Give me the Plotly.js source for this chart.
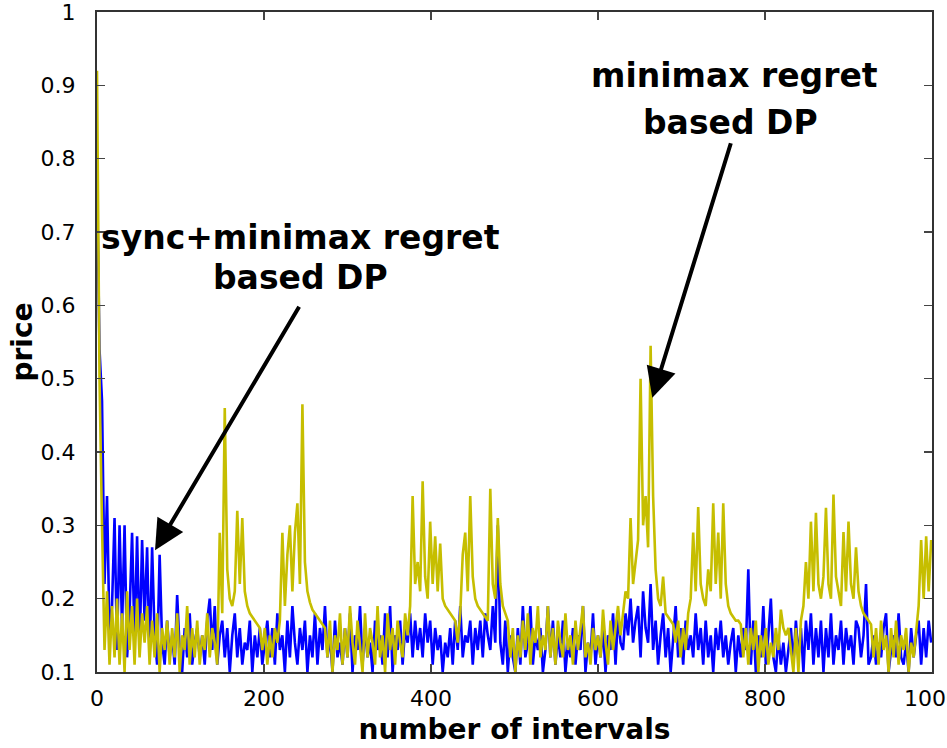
<!DOCTYPE html>
<html>
<head>
<meta charset="utf-8">
<script src="https://cdn.plot.ly/plotly-3.0.1.min.js"></script>
<style>html,body{margin:0;padding:0;background:#fff;}#chart{width:947px;height:748px;}</style>
</head>
<body>
<div id="chart"></div>
<script>
// price per interval, sampled every 3 intervals
const xStep = 3;
const syncBlue = [
0.77,0.54,0.47,0.22,0.34,0.15,0.19,0.31,0.13,0.30,
0.16,0.30,0.12,0.18,0.29,0.14,0.285,0.13,0.28,0.17,
0.27,0.12,0.27,0.15,0.11,0.26,0.14,0.11,0.17,0.12,
0.15,0.11,0.205,0.13,0.10,0.16,0.12,0.18,0.11,0.14,
0.16,0.12,0.15,0.11,0.17,0.20,0.13,0.19,0.11,0.15,
0.17,0.12,0.16,0.10,0.15,0.18,0.12,0.16,0.11,0.14,
0.13,0.17,0.10,0.15,0.12,0.16,0.11,0.14,0.17,0.12,
0.16,0.11,0.18,0.13,0.15,0.10,0.17,0.12,0.19,0.14,
0.11,0.16,0.13,0.17,0.10,0.15,0.12,0.18,0.11,0.16,
0.13,0.19,0.12,0.15,0.10,0.17,0.12,0.14,0.11,0.16,
0.12,0.18,0.10,0.15,0.13,0.19,0.11,0.16,0.12,0.14,
0.10,0.17,0.13,0.15,0.11,0.18,0.12,0.19,0.10,0.15,
0.13,0.17,0.11,0.16,0.14,0.18,0.12,0.17,0.13,0.16,
0.12,0.18,0.14,0.17,0.11,0.16,0.13,0.15,0.10,0.14,
0.12,0.16,0.11,0.17,0.13,0.19,0.12,0.15,0.14,0.17,
0.11,0.16,0.13,0.17,0.12,0.18,0.15,0.13,0.19,0.14,
0.30,0.14,0.11,0.17,0.10,0.15,0.12,0.10,0.16,0.11,
0.19,0.12,0.14,0.19,0.11,0.15,0.13,0.16,0.10,0.13,
0.19,0.12,0.17,0.11,0.15,0.12,0.17,0.10,0.14,0.12,
0.16,0.11,0.15,0.13,0.19,0.10,0.14,0.12,0.18,0.11,
0.15,0.12,0.16,0.10,0.15,0.13,0.18,0.11,0.18,0.14,
0.13,0.18,0.15,0.20,0.14,0.17,0.19,0.12,0.21,0.16,
0.14,0.22,0.13,0.17,0.11,0.15,0.18,0.12,0.16,0.10,
0.15,0.19,0.12,0.16,0.11,0.17,0.13,0.15,0.12,0.18,
0.13,0.16,0.11,0.17,0.12,0.15,0.10,0.16,0.13,0.17,
0.12,0.15,0.11,0.14,0.16,0.10,0.15,0.12,0.16,0.13,
0.24,0.11,0.17,0.10,0.15,0.12,0.19,0.11,0.15,0.20,
0.12,0.10,0.15,0.11,0.14,0.10,0.13,0.16,0.11,0.17,
0.12,0.16,0.10,0.17,0.13,0.18,0.11,0.16,0.12,0.17,
0.10,0.16,0.12,0.18,0.11,0.15,0.13,0.17,0.11,0.16,
0.13,0.15,0.11,0.17,0.16,0.12,0.15,0.22,0.11,0.12,
0.15,0.11,0.14,0.12,0.16,0.18,0.10,0.13,0.15,0.12,
0.18,0.12,0.11,0.14,0.10,0.16,0.12,0.15,0.17,0.11,
0.16,0.12,0.17,0.14
];
const minimaxYellow = [
0.92,0.50,0.30,0.13,0.21,0.11,0.19,0.12,0.20,0.11,
0.18,0.10,0.21,0.13,0.19,0.11,0.20,0.12,0.18,0.14,
0.19,0.11,0.17,0.12,0.18,0.10,0.16,0.13,0.17,0.11,
0.16,0.12,0.18,0.10,0.15,0.13,0.19,0.11,0.16,0.12,
0.17,0.11,0.15,0.13,0.18,0.12,0.16,0.14,0.11,0.29,
0.18,0.46,0.24,0.20,0.19,0.21,0.32,0.22,0.31,0.21,
0.19,0.18,0.175,0.17,0.165,0.16,0.13,0.16,0.11,0.15,
0.12,0.16,0.14,0.17,0.29,0.19,0.26,0.30,0.21,0.29,
0.33,0.22,0.465,0.25,0.21,0.195,0.185,0.18,0.175,0.17,
0.165,0.16,0.12,0.17,0.10,0.15,0.13,0.18,0.11,0.16,
0.12,0.19,0.14,0.11,0.17,0.13,0.10,0.18,0.12,0.16,
0.14,0.11,0.19,0.12,0.15,0.10,0.18,0.13,0.16,0.11,
0.17,0.14,0.12,0.18,0.15,0.19,0.34,0.22,0.25,0.21,
0.36,0.23,0.20,0.305,0.22,0.285,0.21,0.275,0.20,0.19,
0.185,0.18,0.175,0.17,0.14,0.18,0.26,0.29,0.21,0.34,
0.23,0.20,0.19,0.185,0.18,0.175,0.17,0.35,0.22,0.20,
0.31,0.22,0.19,0.18,0.17,0.12,0.16,0.10,0.15,0.12,
0.17,0.13,0.18,0.11,0.16,0.14,0.19,0.12,0.15,0.13,
0.19,0.12,0.16,0.11,0.17,0.14,0.12,0.18,0.13,0.15,
0.11,0.17,0.13,0.16,0.19,0.12,0.14,0.11,0.16,0.13,
0.15,0.12,0.185,0.14,0.11,0.17,0.13,0.16,0.19,0.15,
0.18,0.21,0.20,0.31,0.22,0.25,0.28,0.50,0.30,0.34,
0.27,0.545,0.34,0.24,0.20,0.19,0.23,0.18,0.175,0.17,
0.165,0.14,0.17,0.12,0.16,0.13,0.18,0.20,0.29,0.21,
0.325,0.22,0.20,0.19,0.24,0.21,0.33,0.22,0.29,0.20,
0.33,0.22,0.19,0.18,0.175,0.17,0.17,0.165,0.12,0.16,
0.11,0.16,0.13,0.17,0.10,0.15,0.12,0.16,0.11,0.14,
0.12,0.16,0.13,0.185,0.16,0.15,0.16,0.13,0.10,0.16,
0.10,0.17,0.19,0.25,0.20,0.305,0.21,0.317,0.22,0.20,
0.23,0.324,0.22,0.20,0.342,0.23,0.21,0.19,0.291,0.21,
0.305,0.22,0.20,0.27,0.21,0.19,0.18,0.175,0.17,0.165,
0.12,0.16,0.11,0.17,0.13,0.15,0.10,0.16,0.12,0.17,
0.11,0.15,0.13,0.16,0.10,0.14,0.12,0.16,0.19,0.28,
0.20,0.285,0.21,0.28
];
const intervals = syncBlue.map((_, i) => i * xStep);
const xTicks = [0, 200, 400, 600, 800, 1000];
const yTicks = [0.1, 0.2, 0.3, 0.4, 0.5, 0.6, 0.7, 0.8, 0.9, 1];
const yTickText = ['0.1','0.2','0.3','0.4','0.5','0.6','0.7','0.8','0.9','1'];

const tickFont = {family: 'DejaVu Sans', size: 22, color: '#000'};
const boldFont = {family: 'DejaVu Sans', size: 28, color: '#000', weight: 'bold'};
const annFont = {family: 'DejaVu Sans', size: 33, color: '#000', weight: 'bold'};

const traces = [
  {x: intervals, y: syncBlue, type: 'scatter', mode: 'lines', name: 'sync+minimax regret based DP',
   line: {color: '#0000ff', width: 2.6}},
  {x: intervals, y: minimaxYellow, type: 'scatter', mode: 'lines', name: 'minimax regret based DP',
   line: {color: '#c6be00', width: 2.6}}
];

const axisCommon = {
  showgrid: false, zeroline: false, showline: true, linecolor: '#333', linewidth: 2,
  mirror: 'ticks', ticks: 'inside', ticklen: 8, tickwidth: 1.5, tickcolor: '#444',
  tickfont: tickFont, ticklabeloverflow: 'allow'
};

const layout = {
  width: 947, height: 748,
  margin: {l: 97, r: 15, t: 12, b: 76},
  paper_bgcolor: '#fff', plot_bgcolor: '#fff',
  showlegend: false,
  xaxis: Object.assign({}, axisCommon, {
    range: [0, 1000], tickvals: xTicks, ticktext: xTicks.map(String),
    ticklabelstandoff: 6,
    title: {text: 'number of intervals', font: boldFont, standoff: 9}
  }),
  yaxis: Object.assign({}, axisCommon, {
    range: [0.1, 1], tickvals: yTicks, ticktext: yTickText,
    ticklabelstandoff: 15,
    title: {text: 'price', font: boldFont, standoff: 0}
  }),
  annotations: [
    {xref: 'paper', yref: 'paper', x: 0.244, y: 0.659, text: 'sync+minimax regret', showarrow: false, font: annFont, xanchor: 'center', yanchor: 'middle'},
    {xref: 'paper', yref: 'paper', x: 0.244, y: 0.598, text: 'based DP', showarrow: false, font: annFont, xanchor: 'center', yanchor: 'middle'},
    {xref: 'paper', yref: 'paper', x: 0.763, y: 0.9045, text: 'minimax regret', showarrow: false, font: annFont, xanchor: 'center', yanchor: 'middle'},
    {xref: 'paper', yref: 'paper', x: 0.759, y: 0.833, text: 'based DP', showarrow: false, font: annFont, xanchor: 'center', yanchor: 'middle'},
    {xref: 'x', yref: 'y', x: 69.5, y: 0.266, text: '', showarrow: true, ax: 145, ay: -245,
     arrowhead: 2, arrowsize: 1.5, arrowwidth: 4, arrowcolor: '#000'},
    {xref: 'x', yref: 'y', x: 665, y: 0.474, text: '', showarrow: true, ax: 79, ay: -256,
     arrowhead: 2, arrowsize: 1.5, arrowwidth: 4, arrowcolor: '#000'}
  ]
};

Plotly.newPlot('chart', traces, layout, {displayModeBar: false, staticPlot: true});
</script>
</body>
</html>
